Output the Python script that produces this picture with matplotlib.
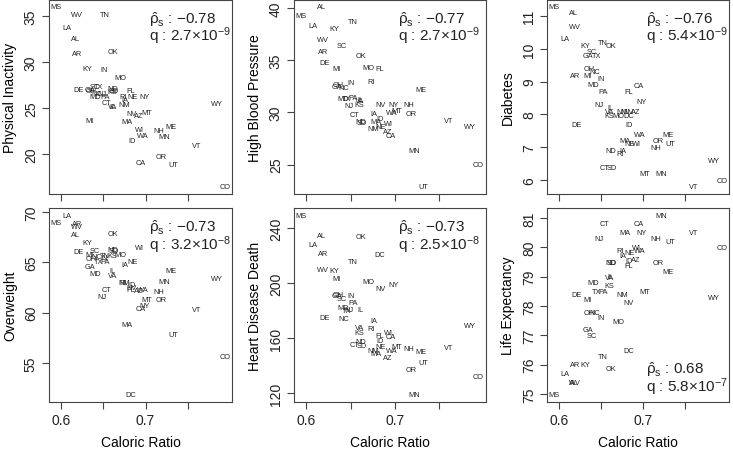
import numpy as np
import matplotlib
matplotlib.use("Agg")
import matplotlib.pyplot as plt

plt.rcParams['font.family'] = ['Liberation Sans', 'DejaVu Sans']
plt.rcParams['mathtext.fontset'] = 'custom'
plt.rcParams['mathtext.rm'] = 'Liberation Sans'
plt.rcParams['mathtext.it'] = 'Liberation Sans'
plt.rcParams['mathtext.bf'] = 'Liberation Sans:bold'

# data
states = ["AL", "AZ", "AR", "CA", "CO", "CT", "DE", "FL", "GA", "ID", "IL", "IN", "IA",
          "KS", "KY", "LA", "ME", "MD", "MA", "MI", "MN", "MS", "MO", "MT", "NE", "NV",
          "NH", "NJ", "NM", "NY", "NC", "ND", "OH", "OK", "OR", "PA", "RI", "SC", "SD",
          "TN", "TX", "UT", "VT", "VA", "WA", "WV", "WI", "WY", "DC"]

caloric_ratio = [0.617, 0.6913, 0.6194, 0.6948, 0.7942, 0.6543, 0.6205, 0.6827, 0.635,
                 0.6835, 0.6614, 0.6505, 0.6761, 0.6602, 0.631, 0.6073, 0.7297, 0.6411,
                 0.6781, 0.6338, 0.722, 0.5942, 0.6703, 0.7017, 0.6842, 0.6832, 0.7157,
                 0.6481, 0.6753, 0.6986, 0.6427, 0.6618, 0.6361, 0.6621, 0.7184, 0.6528,
                 0.6733, 0.6396, 0.6625, 0.652, 0.645, 0.7324, 0.76, 0.6606, 0.6963,
                 0.619, 0.6924, 0.7841, 0.6827]

physical_inactivity = [32.54, 24.2, 30.88, 19.05, 16.45, 25.56, 27.0, 26.9, 27.0, 21.44,
                       25.2, 29.18, 25.9, 26.8, 29.25, 33.73, 22.96, 26.2, 23.57, 23.6,
                       21.88, 35.98, 28.34, 24.48, 26.2, 24.37, 22.53, 26.6, 25.38, 26.2,
                       26.6, 27.1, 26.9, 31.16, 19.74, 26.2, 26.2, 27.3, 26.9, 35.14,
                       27.3, 18.9, 20.97, 25.2, 21.98, 35.14, 22.7, 25.45, np.nan]

high_blood_pressure = [40.1, 28.17, 35.8, 27.79, 24.98, 29.82, 34.78, 34.2, 32.5, 29.44,
                       31.2, 32.84, 29.91, 30.8, 38.02, 38.34, 32.2, 31.35, 29.15, 34.21,
                       26.32, 39.3, 34.3, 30.17, 28.64, 30.77, 30.71, 30.65, 28.42, 30.71,
                       32.4, 29.12, 32.68, 35.48, 29.89, 31.44, 32.94, 36.37, 29.0, 38.66,
                       31.35, 22.88, 29.27, 31.1, 30.0, 37.0, 28.9, 28.61, np.nan]

diabetes = [11.1, 8.09, 9.2, 8.89, 5.99, 6.39, 7.69, 8.71, 9.8, 7.69,
            8.2, 9.1, 6.89, 7.97, 10.1, 10.31, 7.4, 8.9, 7.2, 9.2,
            6.21, 11.28, 7.97, 6.21, 7.1, 8.09, 7.0, 8.3, 8.09, 8.4,
            9.31, 6.89, 9.4, 10.11, 7.21, 8.71, 6.8, 9.93, 6.39, 10.2,
            9.8, 7.1, 5.79, 8.09, 7.4, 10.68, 7.1, 6.6, 7.97]

overweight = [67.81, 62.2, 68.87, 60.4, 55.67, 62.35, 66.06, 62.3, 64.63, 62.8,
              64.18, 65.5, 64.8, 65.66, 66.99, 69.7, 64.24, 63.88, 58.77, 65.8,
              63.08, 68.97, 65.79, 61.33, 65.07, 62.5, 62.15, 61.65, 63.0, 60.7,
              65.6, 66.32, 65.4, 67.91, 61.26, 65.07, 63.0, 66.16, 66.2, 65.7,
              65.1, 57.82, 60.36, 63.68, 62.35, 68.55, 66.49, 63.38, 51.82]

heart_disease_death = [234.7, 145.9, 221.8, 161.2, 132.1, 155.2, 175.0, 161.9, 191.5, 158.3,
                       181.1, 191.0, 172.8, 163.9, 209.2, 228.6, 150.3, 182.3, 149.1, 203.2,
                       118.8, 249.7, 201.2, 153.9, 153.9, 196.4, 152.2, 181.3, 150.8, 199.3,
                       174.5, 157.6, 191.8, 233.9, 137.5, 186.2, 166.8, 189.1, 154.4, 216.2,
                       179.9, 142.5, 153.2, 168.0, 150.8, 210.4, 164.4, 169.0, 221.1]

life_expectancy = [75.4, 79.6, 75.99, 80.82, 80.0, 80.82, 78.39, 79.39, 77.19, 79.55,
                   79.0, 77.6, 79.72, 78.71, 75.99, 75.69, 79.19, 78.81, 80.5, 78.21,
                   81.1, 74.97, 77.48, 78.5, 79.83, 78.11, 80.31, 80.31, 78.39, 80.5,
                   77.78, 79.5, 77.78, 75.88, 79.5, 78.5, 79.91, 77.0, 79.5, 76.29,
                   78.5, 80.2, 80.5, 78.99, 79.9, 75.4, 80.01, 78.29, 76.47]

panel_titles = ["Physical Inactivity", "High Blood Pressure", "Diabetes",
                "Overweight", "Heart Disease Death", "Life Expectancy"]
panel_values = [physical_inactivity, high_blood_pressure, diabetes,
                overweight, heart_disease_death, life_expectancy]
panel_yticks = [[20, 25, 30, 35], [25, 30, 35, 40], [6, 7, 8, 9, 10, 11],
                [55, 60, 65, 70], [120, 160, 200, 240], [75, 76, 77, 78, 79, 80, 81]]
rho = ["\u22120.78", "\u22120.77", "\u22120.76", "\u22120.73", "\u22120.73", "0.68"]
q_mant = ["2.7", "2.7", "5.4", "3.2", "2.5", "5.8"]
q_exp = ["-9", "-9", "-9", "-8", "-8", "-7"]

xticks = [0.6, 0.65, 0.7, 0.75]
xticklabels = ["0.6", "", "0.7", ""]

W, H = 733, 452
fig = plt.figure(figsize=(W / 100, H / 100), dpi=100)

# axes boxes in pixels: left, right, top, bottom
cols = [(49, 232.3), (294, 485.7), (547.3, 728.7)]
rows = [(0.7, 195), (209, 403)]

x = np.array(caloric_ratio)
xpad = 0.04 * (x.max() - x.min())
frame_col = '#444444'

for i in range(6):
    r, c = divmod(i, 3)
    l, rr = cols[c]
    t, b = rows[r]
    ax = fig.add_axes([l / W, (H - b) / H, (rr - l) / W, (b - t) / H])
    y = np.array(panel_values[i], dtype=float)
    for s, xv, yv in zip(states, x, y):
        if np.isnan(yv):
            continue
        ax.text(xv, yv, s, fontsize=5.3, color='#222222', ha='center', va='center')
    ypad = 0.04 * (np.nanmax(y) - np.nanmin(y))
    ax.set_xlim(x.min() - xpad, x.max() + xpad)
    ax.set_ylim(np.nanmin(y) - ypad, np.nanmax(y) + ypad)

    ax.set_xticks(xticks)
    if r == 1:
        ax.set_xticklabels(xticklabels)
        ax.set_xlabel("Caloric Ratio", fontsize=10, labelpad=6)
    else:
        ax.set_xticklabels([])
    ax.set_yticks(panel_yticks[i])
    ax.set_yticklabels([str(v) for v in panel_yticks[i]], rotation=90, va='center')
    ax.set_ylabel(panel_titles[i], fontsize=10, labelpad=5)
    ax.tick_params(direction='out', length=5, width=0.8, colors=frame_col,
                   labelcolor='#222222', labelsize=10, pad=3)
    for sp in ax.spines.values():
        sp.set_color(frame_col)
        sp.set_linewidth(0.8)

    txt1 = r'$\hat{\rho}_\mathrm{s}$ : ' + rho[i]
    txt2 = r'q : ' + q_mant[i] + r'$\times$10$^{' + q_exp[i].replace('-', '\u2212') + '}$'
    if i < 5:
        y1, y2 = 0.905, 0.815
    else:
        y1, y2 = 0.17, 0.08
    ax.text(0.545, y1, txt1, transform=ax.transAxes, fontsize=11, ha='left', va='center',
            color='#222222')
    ax.text(0.545, y2, txt2, transform=ax.transAxes, fontsize=11, ha='left', va='center',
            color='#222222')

fig.savefig("out.png", dpi=100)
